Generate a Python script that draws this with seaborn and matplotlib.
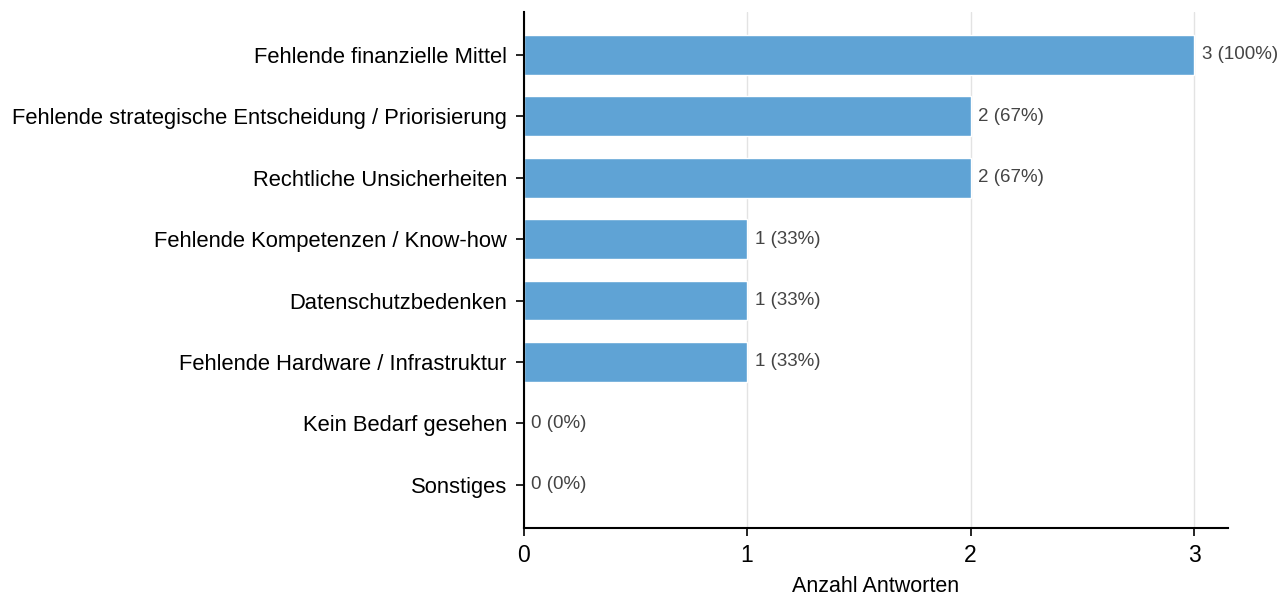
import matplotlib
matplotlib.use('Agg')
import pandas as pd
import matplotlib.pyplot as plt
import seaborn as sns

# Data
categories = [
    "Fehlende finanzielle Mittel",
    "Fehlende strategische Entscheidung / Priorisierung",
    "Rechtliche Unsicherheiten",
    "Fehlende Kompetenzen / Know-how",
    "Datenschutzbedenken",
    "Fehlende Hardware / Infrastruktur",
    "Kein Bedarf gesehen",
    "Sonstiges",
]
counts = [3, 2, 2, 1, 1, 1, 0, 0]
total = 3
x_ticks = [0, 1, 2, 3]

df = pd.DataFrame({"Kategorie": categories, "Anzahl": counts})

sns.set_style("white")
plt.rcParams['font.family'] = ['Liberation Sans', 'DejaVu Sans']

fig, ax = plt.subplots(figsize=(12.8, 5.95), dpi=100)
sns.barplot(data=df, x="Anzahl", y="Kategorie", color="#5fa3d5",
            width=0.65, saturation=1, ax=ax, zorder=2)

ax.set_xlim(0, 3.15)
ax.set_ylim(len(categories) - 0.3, -0.7)
ax.set_xticks(x_ticks)
ax.grid(axis='x', color='#e3e3e3', linewidth=1, zorder=0)
ax.set_axisbelow(True)

for i, v in enumerate(counts):
    ax.text(v + 0.035, i, f"{v} ({round(v / total * 100)}%)",
            va='center', ha='left', fontsize=13.5, color='#444444')

ax.set_xlabel("Anzahl Antworten", fontsize=15.5, labelpad=6, color='black')
ax.set_ylabel("")
ax.tick_params(axis='y', labelsize=15.8, length=6, width=1.2, left=True,
               colors='black', pad=6)
ax.tick_params(axis='x', labelsize=16.5, length=6, width=1.2, bottom=True,
               pad=6, colors='black')
for s in ['top', 'right']:
    ax.spines[s].set_visible(False)
for s in ['left', 'bottom']:
    ax.spines[s].set_color('black')
    ax.spines[s].set_linewidth(1.5)

fig.subplots_adjust(left=0.409, right=0.959, top=0.98, bottom=0.113)
fig.savefig("out.png", dpi=100)
plt.close(fig)
